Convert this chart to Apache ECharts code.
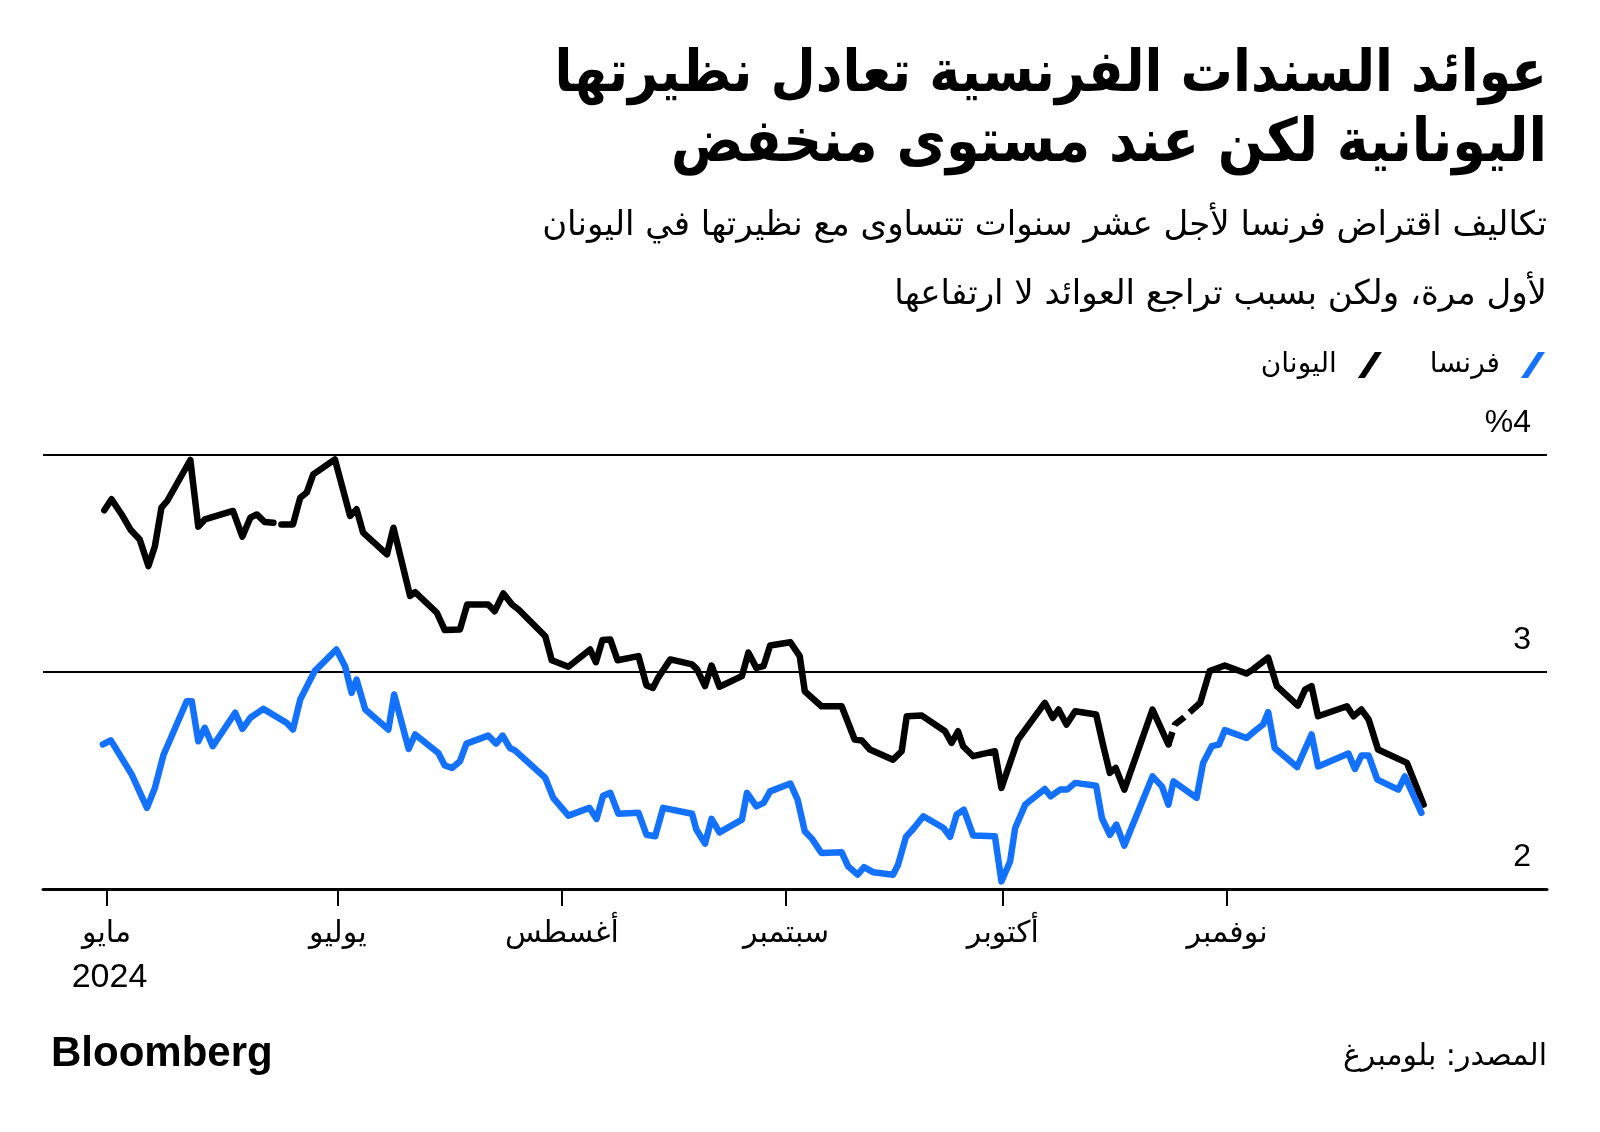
<!DOCTYPE html>
<html>
<head>
<meta charset="utf-8">
<script src="https://cdn.jsdelivr.net/npm/echarts@6/dist/echarts.min.js"></script>
<style>
  html, body { margin: 0; padding: 0; background: #fff; }
  #chart { width: 1600px; height: 1132px; }
</style>
</head>
<body>
<div id="chart"></div>
<script>
// x = days counted from the first tick
var xTickDays = [0, 32, 63, 94, 124, 155];
var xTickLabels = ['مايو\n2024', 'يوليو', 'أغسطس', 'سبتمبر', 'أكتوبر', 'نوفمبر'];
var yTicks = [2, 3, 4];

// فرنسا
var franceDays = [-0.5,0.6,2.1,3.5,5.6,6.7,7.9,11.1,11.8,12.7,13.6,14.7,17.8,18.8,19.9,21.7,24.9,25.8,26.8,28.8,
  31.8,33.0,33.9,34.6,35.8,39.0,39.8,41.8,42.7,45.9,46.8,47.8,48.9,49.8,52.8,53.9,54.8,55.8,56.5,60.7,
  61.8,63.9,66.8,67.8,68.7,69.7,70.8,73.6,74.7,75.9,77.0,81.0,81.6,82.8,83.7,84.8,87.9,88.6,89.9,90.9,
  91.8,94.6,95.6,96.6,97.6,98.9,101.7,102.6,103.9,104.8,106.1,108.8,109.5,110.6,111.7,113.0,115.8,116.7,117.6,118.6,
  119.9,122.9,123.8,125.0,125.7,127.1,129.8,130.6,131.9,132.9,134.0,136.9,137.7,138.8,139.7,140.8,144.7,146.0,146.9,147.6,
  150.8,151.7,152.9,153.9,154.7,157.7,159.1,160.0,160.7,161.6,164.7,166.7,167.6,171.8,172.7,173.6,174.6,175.8,178.7,179.6,181.9];
var franceYields = [2.666,2.685,2.604,2.527,2.374,2.466,2.619,2.865,2.865,2.681,2.743,2.658,2.812,2.738,2.789,2.830,2.766,2.735,2.873,3.004,
  3.104,3.027,2.904,2.965,2.827,2.735,2.896,2.646,2.712,2.627,2.569,2.558,2.589,2.670,2.707,2.670,2.707,2.650,2.639,2.512,
  2.420,2.338,2.374,2.323,2.430,2.443,2.347,2.351,2.250,2.243,2.374,2.347,2.274,2.209,2.323,2.261,2.320,2.443,2.381,2.397,
  2.450,2.486,2.412,2.266,2.231,2.166,2.169,2.104,2.066,2.101,2.077,2.066,2.112,2.240,2.281,2.335,2.281,2.240,2.343,2.366,
  2.246,2.243,2.035,2.127,2.281,2.389,2.461,2.427,2.458,2.458,2.489,2.476,2.327,2.250,2.297,2.200,2.519,2.473,2.389,2.496,
  2.420,2.581,2.658,2.666,2.732,2.696,2.735,2.758,2.815,2.650,2.562,2.712,2.565,2.624,2.553,2.615,2.615,2.504,2.458,2.519,2.351];

// اليونان (null = missing data)
var greeceDays = [-0.3,0.7,2.1,3.3,4.6,5.8,6.7,7.6,8.4,11.6,12.7,13.6,17.5,18.8,19.9,20.8,21.9,23.1,23.6,
  24.2,25.8,26.8,27.7,28.6,31.6,33.7,34.6,35.5,38.8,39.7,42.0,42.7,45.7,46.8,48.9,49.9,52.8,53.7,54.9,56.1,57.0,
  60.7,61.6,63.9,66.9,67.7,68.6,69.7,70.7,73.6,74.7,75.6,76.3,78.0,81.0,81.7,82.8,83.7,84.8,87.9,88.8,89.9,90.9,
  91.8,94.6,95.9,96.6,98.9,101.7,103.5,104.5,105.6,108.8,110.0,110.7,112.8,116.0,116.9,117.8,118.5,119.9,122.9,123.8,
  126.1,129.8,130.9,131.7,132.8,134.0,136.9,137.9,138.8,139.6,140.8,144.7,146.9,149.0,
  151.3,152.6,154.7,157.7,158.6,160.7,161.9,164.8,165.8,166.7,167.6,169.0,171.6,172.5,173.6,174.6,175.9,179.9,182.2];
var greeceYields = [3.745,3.796,3.726,3.657,3.611,3.488,3.580,3.757,3.788,3.977,3.670,3.703,3.742,3.624,3.711,3.726,3.691,3.688,null,
  3.680,3.680,3.803,3.827,3.911,3.980,3.719,3.750,3.642,3.542,3.665,3.350,3.368,3.273,3.193,3.196,3.311,3.311,3.280,3.362,3.311,3.288,
  3.165,3.054,3.024,3.104,3.045,3.147,3.150,3.054,3.073,2.938,2.927,2.973,3.058,3.035,3.012,2.935,3.030,2.932,2.981,3.089,3.019,3.027,
  3.122,3.137,3.073,2.911,2.842,2.842,2.689,2.684,2.643,2.596,2.635,2.796,2.799,2.727,2.673,2.727,2.658,2.612,2.635,2.466,
  2.689,2.858,2.789,2.827,2.758,2.819,2.804,2.658,2.535,2.558,2.458,2.827,2.666,null,
  2.858,3.004,3.030,2.993,3.012,3.066,2.935,2.845,2.919,2.935,2.796,2.812,2.842,2.796,2.827,2.781,2.643,2.581,2.389];
// dashed stretch in November
var greeceDashDays = [146.9,147.8,149.0,151.3];
var greeceDashYields = [2.666,2.758,2.789,2.858];

var BLUE = '#1371ff';
var AR_BOLD = "'DejaVu Sans Condensed', 'DejaVu Sans', sans-serif";
var AR = "'DejaVu Sans', sans-serif";
var NUM = "'Liberation Sans', 'DejaVu Sans', sans-serif";

function pairs(xs, ys) {
  var out = [];
  for (var i = 0; i < xs.length; i++) out.push([xs[i], ys[i]]);
  return out;
}

var chart = echarts.init(document.getElementById('chart'), null, { renderer: 'canvas' });

var lineBase = {
  type: 'line',
  symbol: 'none',
  connectNulls: false,
  animation: false,
  silent: true
};

var option = {
  backgroundColor: '#fff',
  animation: false,
  grid: { left: 43, right: 53, top: 455, bottom: 243, outerBoundsMode: 'none' },
  legend: {
    right: 50, top: 346,
    align: 'right',
    data: ['اليونان', 'فرنسا'],
    icon: 'path://M0,26 L7,26 L24,0 L17,0 Z',
    itemWidth: 24, itemHeight: 26,
    itemGap: 48,
    selectedMode: false,
    textStyle: { fontFamily: AR, fontSize: 28, color: '#000', padding: [0, 16, 0, 0] }
  },
  xAxis: {
    type: 'value',
    min: -8.78, max: 199.27,
    splitLine: { show: false },
    axisLine: { lineStyle: { color: '#000', width: 3 } },
    axisTick: { customValues: xTickDays, length: 17, lineStyle: { color: '#000', width: 2 } },
    axisLabel: {
      customValues: xTickDays,
      formatter: function (v) {
        var parts = xTickLabels[xTickDays.indexOf(v)].split('\n');
        var s = '{a|' + parts[0] + '}';
        if (parts[1]) s += '\n{n|' + parts[1] + '}';
        return s;
      },
      margin: 24,
      color: '#000',
      rich: {
        a: { fontFamily: AR, fontSize: 30, lineHeight: 43, color: '#000' },
        n: { fontFamily: NUM, fontSize: 34, lineHeight: 43, color: '#000', padding: [0, 0, 0, 6] }
      }
    }
  },
  yAxis: {
    type: 'value',
    position: 'right',
    min: 2, max: 4, interval: 1,
    axisLine: { show: false },
    axisTick: { show: false },
    splitLine: { lineStyle: { color: '#000', width: 2 } },
    axisLabel: {
      inside: true, margin: 16,
      verticalAlign: 'bottom',
      padding: [0, 0, 16, 0],
      fontFamily: NUM, fontSize: 32, color: '#000',
      formatter: function (v) { return v === yTicks[yTicks.length - 1] ? '%' + v : String(v); }
    }
  },
  graphic: [
    { type: 'text', x: 1547, y: 76, style: { text: 'عوائد السندات الفرنسية تعادل نظيرتها', align: 'right', verticalAlign: 'middle', font: 'bold 58px ' + AR_BOLD, fill: '#000' } },
    { type: 'text', x: 1547, y: 145, style: { text: 'اليونانية لكن عند مستوى منخفض', align: 'right', verticalAlign: 'middle', font: 'bold 60px ' + AR_BOLD, fill: '#000' } },
    { type: 'text', x: 1547, y: 226, style: { text: 'تكاليف اقتراض فرنسا لأجل عشر سنوات تتساوى مع نظيرتها في اليونان', align: 'right', verticalAlign: 'middle', font: '34px ' + AR, fill: '#000' } },
    { type: 'text', x: 1547, y: 295, style: { text: 'لأول مرة، ولكن بسبب تراجع العوائد لا ارتفاعها', align: 'right', verticalAlign: 'middle', font: '34px ' + AR, fill: '#000' } },
    { type: 'text', x: 51, y: 1054, style: { text: 'Bloomberg', align: 'left', verticalAlign: 'middle', font: 'bold 42px ' + NUM, fill: '#000' } },
    { type: 'text', x: 1547, y: 1057, style: { text: 'المصدر: بلومبرغ', align: 'right', verticalAlign: 'middle', font: '30px ' + AR, fill: '#000' } }
  ],
  series: [
    Object.assign({}, lineBase, {
      name: 'اليونان',
      data: pairs(greeceDays, greeceYields),
      itemStyle: { color: '#000' },
      lineStyle: { color: '#000', width: 6.5, cap: 'round', join: 'round' }
    }),
    Object.assign({}, lineBase, {
      name: 'اليونان',
      data: pairs(greeceDashDays, greeceDashYields),
      itemStyle: { color: '#000' },
      lineStyle: { color: '#000', width: 6.5, type: [13, 7], cap: 'butt', join: 'round' }
    }),
    Object.assign({}, lineBase, {
      name: 'فرنسا',
      data: pairs(franceDays, franceYields),
      itemStyle: { color: BLUE },
      lineStyle: { color: BLUE, width: 6.5, cap: 'round', join: 'round' }
    })
  ]
};

chart.setOption(option);
</script>
</body>
</html>
